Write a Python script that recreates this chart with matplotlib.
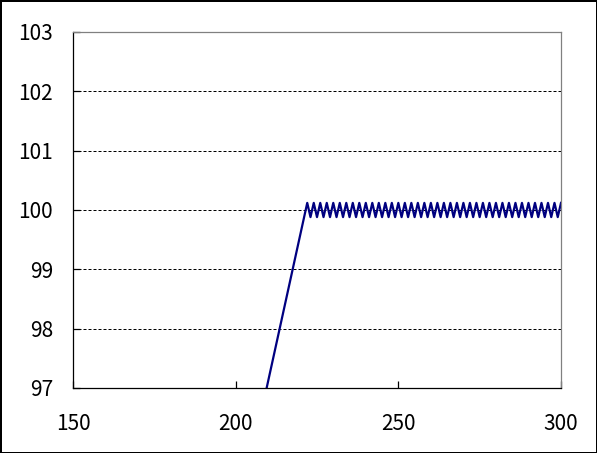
import matplotlib
matplotlib.use('Agg')
import matplotlib.pyplot as plt
import numpy as np

plt.rcParams['font.family'] = ['Noto Sans CJK JP', 'DejaVu Sans']

# ramp 205..222, then oscillation 223..300
x_vals = np.arange(205, 301)
ramp = [95.87, 96.12, 96.37, 96.62, 96.87, 97.12, 97.37, 97.62, 97.87,
        98.12, 98.37, 98.62, 98.87, 99.12, 99.37, 99.62, 99.87, 100.12]
osc = [99.88, 100.12, 99.88, 100.12, 99.88, 100.12, 99.88, 100.12,
       99.88, 100.12, 99.88, 100.12, 99.88, 100.12, 99.88, 100.12,
       99.88, 100.12, 99.88, 100.12, 99.88, 100.12, 99.88, 100.12,
       99.88, 100.12, 99.88, 100.12, 99.88, 100.12, 99.88, 100.12,
       99.88, 100.12, 99.88, 100.12, 99.88, 100.12, 99.88, 100.12,
       99.88, 100.12, 99.88, 100.12, 99.88, 100.12, 99.88, 100.12,
       99.88, 100.12, 99.88, 100.12, 99.88, 100.12, 99.88, 100.12,
       99.88, 100.12, 99.88, 100.12, 99.88, 100.12, 99.88, 100.12,
       99.88, 100.12, 99.88, 100.12, 99.88, 100.12, 99.88, 100.12,
       99.88, 100.12, 99.88, 100.12, 99.88, 100.12]
y_vals = ramp + osc

x_ticks = [150, 200, 250, 300]
y_ticks = [97, 98, 99, 100, 101, 102, 103]

W, H = 597, 453
fig = plt.figure(figsize=(W / 100, H / 100), dpi=100,
                 edgecolor='black', linewidth=2)
ax = fig.add_axes([73 / W, (H - 388) / H, (561 - 73) / W, (388 - 32) / H])

ax.plot(x_vals, y_vals, color='#000080', linewidth=1.6, clip_on=True)

ax.set_xlim(150, 300)
ax.set_ylim(97, 103)
ax.set_xticks(x_ticks)
ax.set_yticks(y_ticks)

for yv in y_ticks[1:-1]:
    ax.axhline(yv, color='black', linewidth=0.72, linestyle=(0, (3, 2)), zorder=0)

ax.spines['top'].set_color('#808080')
ax.spines['right'].set_color('#808080')
ax.spines['left'].set_color('black')
ax.spines['bottom'].set_color('black')
for s in ax.spines.values():
    s.set_linewidth(0.9)

ax.tick_params(axis='x', direction='in', length=5, width=0.9, pad=18, labelsize=15)
ax.tick_params(axis='y', direction='in', length=5, width=0.9, pad=14.4, labelsize=15)

plt.savefig('out.png', dpi=100)
